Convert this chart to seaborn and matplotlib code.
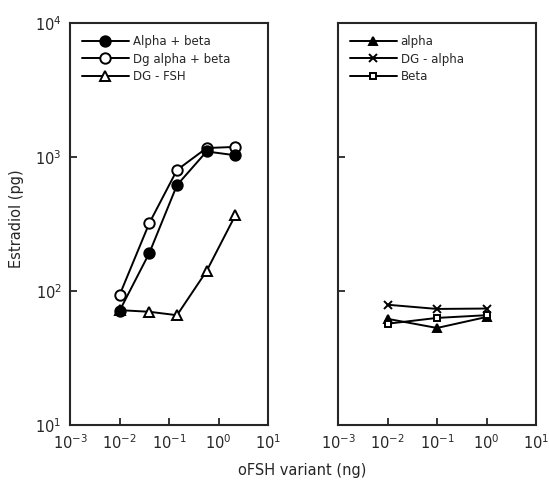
import matplotlib
matplotlib.use("Agg")
import matplotlib.pyplot as plt
import numpy as np
import pandas as pd
import seaborn as sns
from matplotlib.ticker import NullLocator

sns.set_style("ticks")
plt.rcParams["font.family"] = ["DejaVu Sans"]

# left panel: dose (ng) vs estradiol (pg)
dose_left = [0.01, 0.04, 0.145, 0.575, 2.2]
alpha_beta = [71, 192, 617, 1100, 1030]
dg_alpha_beta = [93, 321, 800, 1167, 1190]
dg_fsh = [72, 70, 66, 141, 369]

# right panel
dose_right = [0.01, 0.1, 1.0]
alpha = [62, 53, 64]
dg_alpha = [79, 73.5, 74]
beta = [57, 63, 66]

left_series = [
    ("Alpha + beta", alpha_beta, "o", "black", 7.5, 5),
    ("Dg alpha + beta", dg_alpha_beta, "o", "white", 7.5, 3),
    ("DG - FSH", dg_fsh, "^", "white", 6.5, 2),
]
right_series = [
    ("alpha", alpha, "^", "black", 5.5, 3),
    ("DG - alpha", dg_alpha, "x", "black", 5.5, 3),
    ("Beta", beta, "s", "white", 5, 4),
]

fig = plt.figure(figsize=(5.49, 4.96), dpi=100)
ax1 = fig.add_axes([0.1275, 0.1431, 0.3607, 0.8105])
ax2 = fig.add_axes([0.6157, 0.1431, 0.3607, 0.8105])


def draw(ax, dose, series):
    for label, vals, mk, fc, ms, z in series:
        df = pd.DataFrame({"dose": dose, "val": vals})
        sns.lineplot(data=df, x="dose", y="val", ax=ax, color="black",
                     marker=mk, markersize=ms, markerfacecolor=fc,
                     markeredgecolor="black", markeredgewidth=1.4,
                     linewidth=1.4, label=label, zorder=z)


draw(ax1, dose_left, left_series)
draw(ax2, dose_right, right_series)

for ax in (ax1, ax2):
    ax.set_xscale("log")
    ax.set_yscale("log")
    ax.set_xlim(1e-3, 1e1)
    ax.set_ylim(1e1, 1e4)
    ax.set_xticks([1e-3, 1e-2, 1e-1, 1e0, 1e1])
    ax.xaxis.set_minor_locator(NullLocator())
    ax.yaxis.set_minor_locator(NullLocator())
    ax.tick_params(direction="in", length=5, width=1.3, labelsize=10.5, pad=6)
    ax.set_xlabel("")
    ax.set_ylabel("")
    for sp in ax.spines.values():
        sp.set_linewidth(1.5)
    ax.legend(loc="upper left", frameon=False, fontsize=8.5, handlelength=4,
              handletextpad=0.3, labelspacing=0.4, borderaxespad=0.6)

ax1.set_yticks([1e1, 1e2, 1e3, 1e4])
ax2.set_yticks([1e2, 1e3])
ax2.set_yticklabels([])

fig.text(0.55, 0.052, "oFSH variant (ng)", ha="center", va="center", fontsize=10.5)
fig.text(0.03, 0.56, "Estradiol (pg)", ha="center", va="center",
         rotation=90, fontsize=10.5)

fig.savefig("out.png", dpi=100)
